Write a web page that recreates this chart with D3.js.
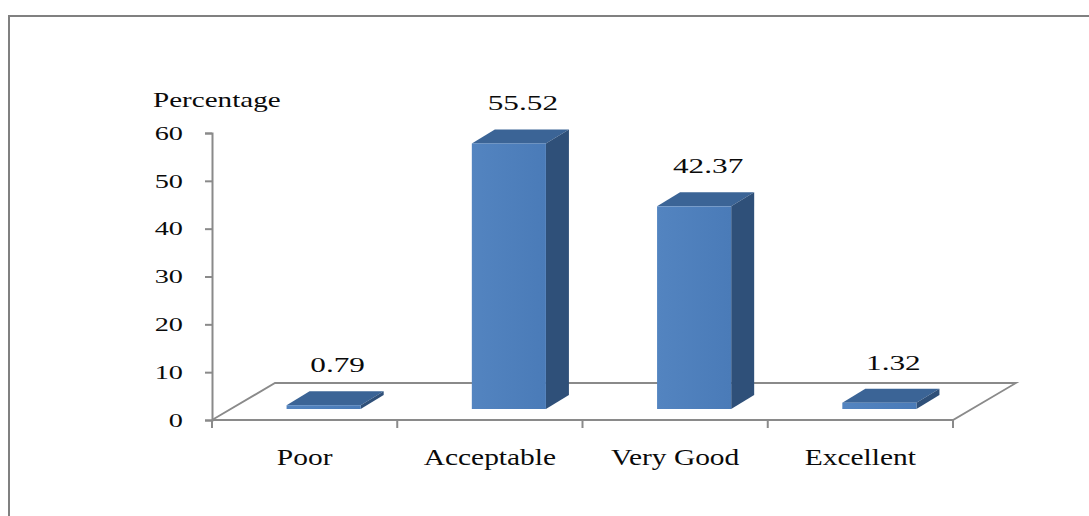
<!DOCTYPE html>
<html>
<head>
<meta charset="utf-8">
<script src="https://cdn.jsdelivr.net/npm/d3@7"></script>
<style>
  html, body { margin: 0; padding: 0; background: #fff; }
  svg { display: block; }
  text { font-family: "Liberation Serif", "DejaVu Serif", serif; fill: #0a0a0a; }
</style>
</head>
<body>
<svg id="chart" width="1089" height="516"></svg>
<script>
// Rating categories and their share (%)
const categories = ["Poor", "Acceptable", "Very Good", "Excellent"];
const values = [0.79, 55.52, 42.37, 1.32];
const valueLabels = ["0.79", "55.52", "42.37", "1.32"];
const yTicks = [0, 10, 20, 30, 40, 50, 60];
const yTitle = "Percentage";

const svg = d3.select("#chart");

// Outer chart frame
svg.append("rect")
  .attr("x", 9).attr("y", 16)
  .attr("width", 1300).attr("height", 700)
  .attr("fill", "#fff")
  .attr("stroke", "#808080").attr("stroke-width", 2);

// Plot geometry (front plane of the 3D floor)
const plotLeft = 212, plotRight = 953, plotBase = 420, plotTop = 133;
const floorDx = 63, floorDy = -37;   // depth of the floor
const barOx = 19, barOy = -11;       // bars sit a little behind the front edge
const barDx = 23, barDy = -14;       // depth of each bar

const x = d3.scaleBand().domain(categories).range([plotLeft, plotRight]).paddingInner(0).paddingOuter(0);
const y = d3.scaleLinear().domain([0, 60]).range([plotBase, plotTop]);
const barW = x.bandwidth() * 0.4;

const axisColor = "#8a8a8a";

// Floor parallelogram
svg.append("path")
  .attr("d", d3.line()([
    [plotLeft, plotBase], [plotLeft + floorDx, plotBase + floorDy],
    [plotRight + floorDx, plotBase + floorDy], [plotRight, plotBase], [plotLeft, plotBase]
  ]))
  .attr("fill", "none")
  .attr("stroke", axisColor).attr("stroke-width", 1.8);

// Value axis
const yAxis = svg.append("g")
  .attr("transform", `translate(${plotLeft},0)`)
  .call(d3.axisLeft(y).tickValues(yTicks).tickSize(7).tickFormat(""));
yAxis.select(".domain").attr("stroke", axisColor).attr("stroke-width", 2);
yAxis.selectAll(".tick line").attr("stroke", axisColor).attr("stroke-width", 2);

// Category axis ticks along the front edge
const catTicks = categories.map(c => x(c)).concat([plotRight]);
svg.append("g").selectAll("line")
  .data(catTicks)
  .join("line")
  .attr("x1", d => d).attr("x2", d => d)
  .attr("y1", plotBase).attr("y2", plotBase + 8)
  .attr("stroke", axisColor).attr("stroke-width", 2);

// Tick labels, drawn slightly wide
svg.append("g").selectAll("text")
  .data(yTicks)
  .join("text")
  .attr("transform", d => `translate(183,${y(d)}) scale(1.45,1)`)
  .attr("text-anchor", "end")
  .attr("dominant-baseline", "central")
  .attr("font-size", 19.5)
  .text(d => d);

// Axis title
svg.append("text")
  .attr("transform", "translate(153,107) scale(1.42,1)")
  .attr("font-size", 20.5)
  .text(yTitle);

// Bar faces gradient
const defs = svg.append("defs");
const grad = defs.append("linearGradient").attr("id", "front").attr("x1", 0).attr("x2", 1).attr("y1", 0).attr("y2", 0);
grad.append("stop").attr("offset", 0).attr("stop-color", "#5384c0");
grad.append("stop").attr("offset", 1).attr("stop-color", "#4a7bb8");

const bars = svg.append("g").selectAll("g")
  .data(categories.map((c, i) => ({ c, v: values[i], label: valueLabels[i] })))
  .join("g");

bars.each(function (d) {
  const g = d3.select(this);
  const x0 = x(d.c) + (x.bandwidth() - barW) / 2 + barOx;
  const yb = y(0) + barOy;
  const yt = y(d.v) + barOy;
  // top face
  g.append("path")
    .attr("d", d3.line()([[x0, yt], [x0 + barDx, yt + barDy], [x0 + barW + barDx, yt + barDy], [x0 + barW, yt]]) + "Z")
    .attr("fill", "#3b6496");
  // side face
  g.append("path")
    .attr("d", d3.line()([[x0 + barW, yt], [x0 + barW + barDx, yt + barDy], [x0 + barW + barDx, yb + barDy], [x0 + barW, yb]]) + "Z")
    .attr("fill", "#2f5079");
  // front face
  g.append("rect")
    .attr("x", x0).attr("y", yt)
    .attr("width", barW).attr("height", Math.max(yb - yt, 0))
    .attr("fill", "url(#front)");
  // value label
  g.append("text")
    .attr("transform", `translate(${x0 + barW / 2 + 14},${yt + barDy - 19}) scale(1.42,1)`)
    .attr("text-anchor", "middle")
    .attr("font-size", 22)
    .text(d.label);
});

// Category labels
svg.append("g").selectAll("text")
  .data(categories)
  .join("text")
  .attr("transform", d => `translate(${x(d) + x.bandwidth() / 2},465) scale(1.28,1)`)
  .attr("text-anchor", "middle")
  .attr("font-size", 23)
  .text(d => d);
</script>
</body>
</html>
